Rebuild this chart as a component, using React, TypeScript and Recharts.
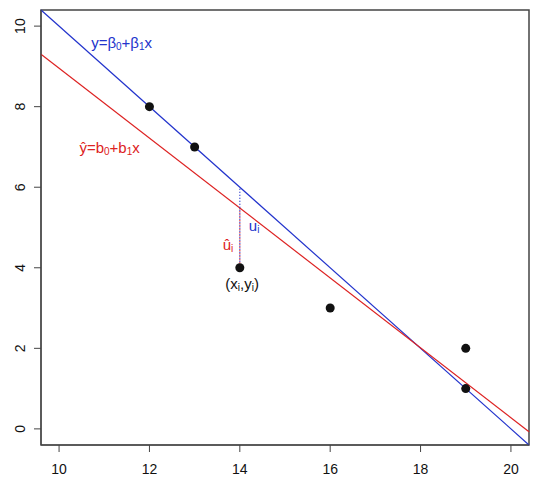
import React from 'react'
import {
  ScatterChart, Scatter, XAxis, YAxis, ReferenceLine, ReferenceArea, ReferenceDot
} from 'recharts'

// observed points
const pointX = [12, 13, 14, 16, 19, 19]
const pointY = [8, 7, 4, 3, 2, 1]

// population line y = b0 + b1 x, endpoints at the plot edges
const popLine = [{ x: 9.6, y: 10.4 }, { x: 20.4, y: -0.4 }]
// fitted line endpoints
const fitLine = [{ x: 9.6, y: 9.3 }, { x: 20.4, y: -0.07 }]

// residual segment at x_i
const residX = 14
const residY = [4, 6]
const residHatY = [4, 5.48]

const xTicks = [10, 12, 14, 16, 18, 20]
const yTicks = [0, 2, 4, 6, 8, 10]

const BLUE = '#2233cc'
const RED = '#dd2222'
const AXIS = '#444'
const FONT = '"Liberation Sans", Arial, sans-serif'

const points = pointX.map((x, i) => ({ x, y: pointY[i] }))

const Sub = ({ children }: { children: React.ReactNode }) => (
  <tspan dy={4} fontSize={10}>{children}</tspan>
)

const labels = [
  {
    x: 10.71, y: 9.6, color: BLUE, anchor: 'start',
    body: <><tspan>y=β</tspan><Sub>0</Sub><tspan dy={-4}>+β</tspan><Sub>1</Sub><tspan dy={-4}>x</tspan></>,
  },
  {
    x: 10.45, y: 7.0, color: RED, anchor: 'start',
    body: <><tspan>ŷ=b</tspan><Sub>0</Sub><tspan dy={-4}>+b</tspan><Sub>1</Sub><tspan dy={-4}>x</tspan></>,
  },
  {
    x: 14.2, y: 5.06, color: BLUE, anchor: 'start',
    body: <><tspan>u</tspan><Sub>i</Sub></>,
  },
  {
    x: 13.62, y: 4.6, color: RED, anchor: 'start',
    body: <><tspan>û</tspan><Sub>i</Sub></>,
  },
  {
    x: 14.05, y: 3.62, color: '#111', anchor: 'middle',
    body: <><tspan>(x</tspan><Sub>i</Sub><tspan dy={-4}>,y</tspan><Sub>i</Sub><tspan dy={-4}>)</tspan></>,
  },
]

const YTick = (props: any) => {
  const { x, y, payload } = props
  const cx = x - 12
  return (
    <text x={cx} y={y} transform={`rotate(-90, ${cx}, ${y})`} textAnchor="middle"
      dominantBaseline="central" fontSize={14} fill="#111" fontFamily={FONT}>
      {payload.value}
    </text>
  )
}

export default function App() {
  return (
    <div style={{ position: 'absolute', left: 0, top: 0, background: '#fff' }}>
      <ScatterChart width={540} height={492} margin={{ top: 10, right: 11, bottom: 0, left: 0 }}>
        <XAxis type="number" dataKey="x" domain={[9.6, 20.4]} ticks={xTicks} allowDataOverflow
          height={47} tickSize={7} tickMargin={12} stroke={AXIS}
          tick={{ fontSize: 14, fill: '#111', fontFamily: FONT }} />
        <YAxis type="number" dataKey="y" domain={[-0.4, 10.4]} ticks={yTicks} allowDataOverflow
          width={41} tickSize={7} stroke={AXIS} tick={<YTick />} />
        <ReferenceArea x1={9.6} x2={20.4} y1={-0.4} y2={10.4} fill="none" stroke={AXIS} strokeWidth={1.5} />
        <ReferenceLine segment={popLine} stroke={BLUE} strokeWidth={1.2} ifOverflow="visible" />
        <ReferenceLine segment={fitLine} stroke={RED} strokeWidth={1.2} ifOverflow="visible" />
        <ReferenceLine segment={[{ x: residX, y: residY[0] }, { x: residX, y: residY[1] }]}
          stroke={BLUE} strokeWidth={1.3} strokeDasharray="1 2" ifOverflow="visible" />
        <ReferenceLine segment={[{ x: residX, y: residHatY[0] }, { x: residX, y: residHatY[1] }]}
          stroke={RED} strokeWidth={1.3} strokeDasharray="1 2" strokeDashoffset={1.5} ifOverflow="visible" />
        <Scatter data={points} fill="#111" isAnimationActive={false}
          shape={(p: any) => <circle cx={p.cx} cy={p.cy} r={4.5} fill="#111" />} />
        {labels.map((l, i) => (
          <ReferenceDot key={i} x={l.x} y={l.y} r={1} ifOverflow="visible"
            shape={(p: any) => (
              <text x={p.cx} y={p.cy} fill={l.color} fontSize={15} fontFamily={FONT}
                textAnchor={l.anchor as any} dominantBaseline="central">
                {l.body}
              </text>
            )} />
        ))}
      </ScatterChart>
    </div>
  )
}
